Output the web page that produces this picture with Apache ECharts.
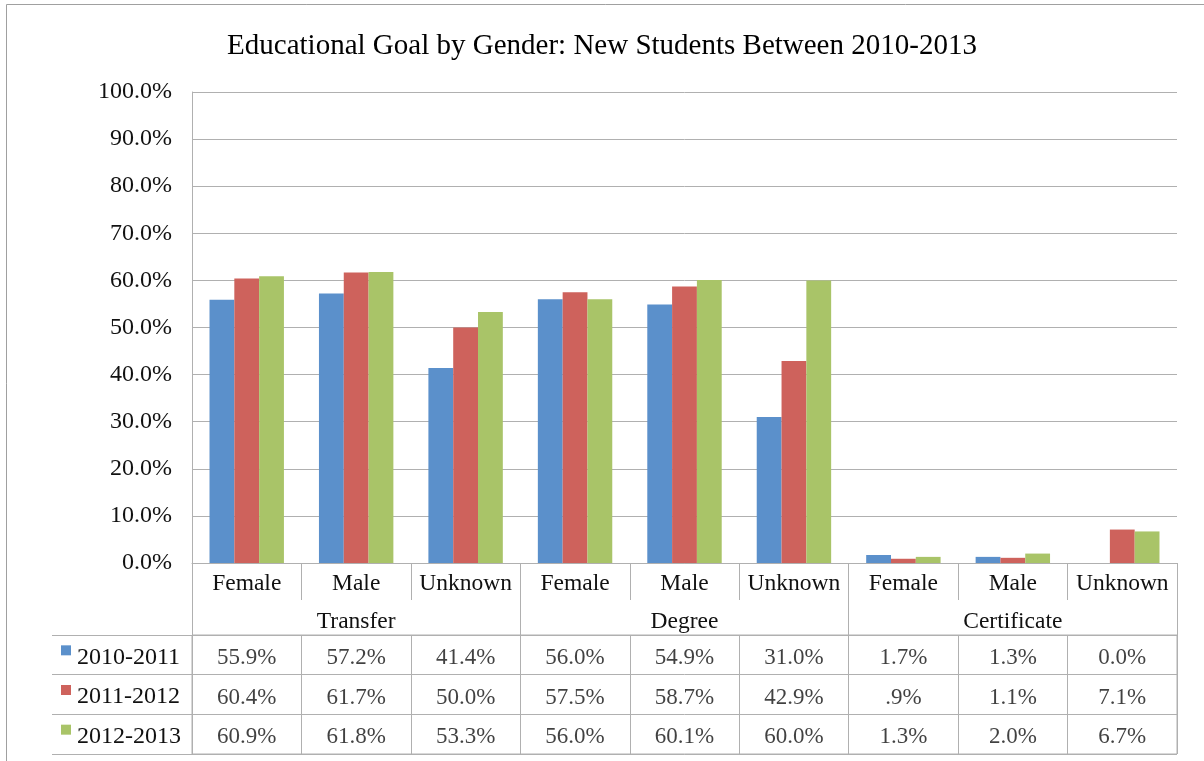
<!DOCTYPE html>
<html>
<head>
<meta charset="utf-8">
<script src="https://cdn.jsdelivr.net/npm/echarts@6/dist/echarts.min.js"></script>
<style>html,body{margin:0;padding:0;background:#fff;}#c{width:1204px;height:761px;}</style>
</head>
<body>
<div id="c"></div>
<script>
var genders = ['Female','Male','Unknown','Female','Male','Unknown','Female','Male','Unknown'];
var goals = ['Transfer','Degree','Certificate'];
var seriesNames = ['2010-2011','2011-2012','2012-2013'];
var colors = ['#5B90CB','#CE625C','#A9C468'];
var y2010 = [55.9,57.2,41.4,56.0,54.9,31.0,1.7,1.3,0.0];
var y2011 = [60.4,61.7,50.0,57.5,58.7,42.9,0.9,1.1,7.1];
var y2012 = [60.9,61.8,53.3,56.0,60.1,60.0,1.3,2.0,6.7];
var allValues = [y2010, y2011, y2012];

var FONT = '"Liberation Serif","Times New Roman",serif';
var GRAY = '#b0b0b0';
var TXT = '#111';

function fmtCell(v){
  var s = v.toFixed(1) + '%';
  if (v > 0 && v < 1) s = s.substring(1);
  return s;
}

var tableData = [];
allValues.forEach(function(arr, r){
  arr.forEach(function(v, c){ tableData.push([c, r, v]); });
});

var rich = {};
seriesNames.forEach(function(n, i){
  rich['sq' + i] = {backgroundColor: colors[i], width: 10, height: 10, verticalAlign: 'top'};
});
rich.t = {fontFamily: FONT, fontSize: 24, color: TXT, padding: [0,0,0,6]};

var chart = echarts.init(document.getElementById('c'));
chart.setOption({
  animation: false,
  backgroundColor: '#fff',
  title: {
    text: 'Educational Goal by Gender: New Students Between 2010-2013',
    left: 'center', top: 27,
    textStyle: {fontFamily: FONT, fontSize: 29, fontWeight: 'normal', color: '#000'}
  },
  graphic: [{
    type: 'rect', shape: {x: 6.5, y: 4.5, width: 1300, height: 900},
    style: {fill: 'none', stroke: '#a0a0a0', lineWidth: 1}, silent: true, z: -1
  }],
  grid: [
    {left: 192, right: 27, top: 92, bottom: 198, containLabel: false},
    {left: 192, right: 27, top: 635, height: 119, show: true, borderColor: GRAY, borderWidth: 1, containLabel: false}
  ],
  xAxis: [
    {
      type: 'category', gridIndex: 0, data: genders,
      axisLine: {show: true, lineStyle: {color: GRAY}},
      axisTick: {show: true, interval: 0, length: 37, lineStyle: {color: GRAY}},
      axisLabel: {interval: 0, margin: 9, fontFamily: FONT, fontSize: 23.5, color: TXT}
    },
    {
      type: 'category', gridIndex: 0, data: goals, position: 'bottom',
      axisLine: {show: false},
      axisTick: {show: true, interval: 0, length: 72, lineStyle: {color: GRAY}},
      axisLabel: {interval: 0, margin: 47, fontFamily: FONT, fontSize: 23.5, color: TXT}
    },
    {
      type: 'category', gridIndex: 1, data: genders, position: 'top',
      axisLine: {show: true, lineStyle: {color: GRAY}},
      axisTick: {show: false}, axisLabel: {show: false},
      splitLine: {show: true, interval: 0, lineStyle: {color: GRAY}}
    }
  ],
  yAxis: [
    {
      type: 'value', gridIndex: 0, min: 0, max: 100, interval: 10,
      axisLine: {show: true, lineStyle: {color: GRAY}},
      axisTick: {show: false},
      splitLine: {show: true, lineStyle: {color: GRAY}},
      axisLabel: {margin: 20, fontFamily: FONT, fontSize: 24, color: TXT,
        formatter: function(v){ return v.toFixed(1) + '%'; }}
    },
    {
      type: 'category', gridIndex: 1, data: seriesNames, inverse: true,
      axisLine: {show: true, lineStyle: {color: GRAY}},
      axisTick: {show: true, interval: 0, length: 140, lineStyle: {color: GRAY}},
      splitLine: {show: true, interval: 0, lineStyle: {color: GRAY}},
      axisLabel: {
        interval: 0, align: 'left', margin: 131, rich: rich, padding: [5,0,0,0],
        formatter: function(v, i){ return '{sq' + i + '|}{t|' + v + '}'; }
      }
    },
    {
      type: 'category', gridIndex: 1, data: seriesNames, inverse: true, offset: 140,
      axisLine: {show: true, lineStyle: {color: GRAY}},
      axisTick: {show: false}, axisLabel: {show: false}, splitLine: {show: false}
    }
  ],
  series: [
    {name: seriesNames[0], type: 'bar', xAxisIndex: 0, yAxisIndex: 0, data: y2010,
      barGap: '0%', barCategoryGap: '32%', itemStyle: {color: colors[0]}},
    {name: seriesNames[1], type: 'bar', xAxisIndex: 0, yAxisIndex: 0, data: y2011,
      barGap: '0%', barCategoryGap: '32%', itemStyle: {color: colors[1]}},
    {name: seriesNames[2], type: 'bar', xAxisIndex: 0, yAxisIndex: 0, data: y2012,
      barGap: '0%', barCategoryGap: '32%', itemStyle: {color: colors[2]}},
    {
      type: 'scatter', xAxisIndex: 2, yAxisIndex: 1, data: tableData,
      symbol: 'rect', symbolSize: 1, itemStyle: {color: 'rgba(0,0,0,0)'},
      label: {show: true, position: 'inside', offset: [0, 3], fontFamily: FONT, fontSize: 23, color: TXT,
        formatter: function(p){ return fmtCell(p.value[2]); }},
      silent: true
    }
  ]
});
</script>
</body>
</html>
